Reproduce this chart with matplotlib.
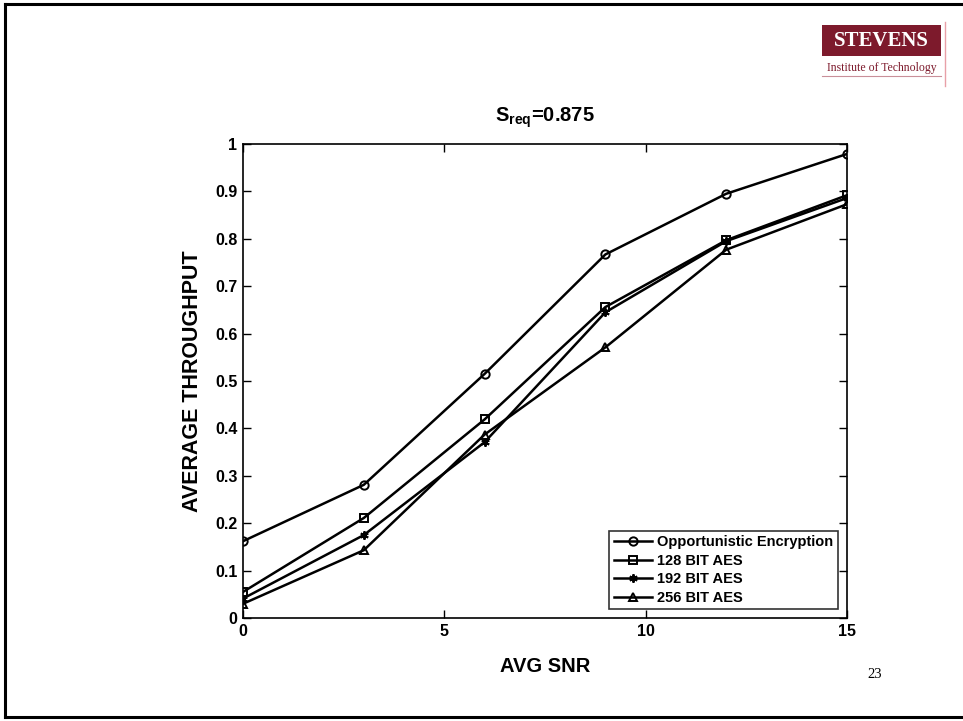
import numpy as np
import matplotlib
matplotlib.use('Agg')
import matplotlib.pyplot as plt
from matplotlib.patches import Rectangle

plt.rcParams['font.family'] = ['Liberation Sans', 'DejaVu Sans']
plt.rcParams['mathtext.fontset'] = 'custom'
plt.rcParams['mathtext.rm'] = 'Liberation Sans:bold'
plt.rcParams['mathtext.it'] = 'Liberation Sans:bold'
plt.rcParams['mathtext.bf'] = 'Liberation Sans:bold'

# ---- data ----
snr = [0, 3, 6, 9, 12, 15]
opportunistic = [0.162, 0.281, 0.515, 0.767, 0.895, 0.979]
aes_128 = [0.055, 0.211, 0.419, 0.656, 0.797, 0.892]
aes_192 = [0.041, 0.175, 0.371, 0.645, 0.795, 0.886]
aes_256 = [0.030, 0.143, 0.387, 0.571, 0.777, 0.873]

series_labels = ['Opportunistic Encryption', '128 BIT AES',
                 '192 BIT AES', '256 BIT AES']
x_ticks = [0, 5, 10, 15]
y_ticks = [0, 0.1, 0.2, 0.3, 0.4, 0.5, 0.6, 0.7, 0.8, 0.9, 1.0]
y_tick_labels = ['0', '0.1', '0.2', '0.3', '0.4', '0.5', '0.6', '0.7',
                 '0.8', '0.9', '1']

W, H = 963, 721
fig = plt.figure(figsize=(W / 100, H / 100), dpi=100)
fig.patch.set_facecolor('white')

# slide frame
frame = fig.add_axes([0, 0, 1, 1])
frame.set_xlim(0, W)
frame.set_ylim(H, 0)
frame.axis('off')
frame.plot([5, W + 5], [4, 4], color='black', lw=2.2)
frame.plot([5, 5], [4, 717], color='black', lw=2.2)
frame.plot([5, W + 5], [717, 717], color='black', lw=2.2)

# Stevens logo
frame.add_patch(Rectangle((822, 25), 119, 31, facecolor='#7d1a2c',
                          edgecolor='none'))
frame.text(881.5, 41, 'STEVENS', color='white', fontsize=15,
           fontweight='bold', family=['Liberation Serif'],
           ha='center', va='center')
frame.text(881.5, 68, 'Institute of Technology', color='#7d1a2c',
           fontsize=8.5, family=['Liberation Serif'],
           ha='center', va='center')
frame.plot([822, 941], [76, 76], color='#c98f99', lw=0.8)
frame.plot([945, 945], [22, 86], color='#e8a0a8', lw=1)

# page number
frame.text(875, 674, '23', fontsize=10.5, family=['Liberation Serif'],
           ha='center', va='center')

ax = fig.add_axes([243 / W, 1 - 618 / H, (847 - 243) / W, (618 - 144) / H])
marker_list = ['o', 's', (6, 2, 0), '^']
all_series = [opportunistic, aes_128, aes_192, aes_256]
for vals, lab, mk in zip(all_series, series_labels, marker_list):
    ax.plot(snr, vals, color='black', lw=1.8, marker=mk, markersize=6,
            markerfacecolor='none', markeredgecolor='black',
            markeredgewidth=1.4, label=lab)

ax.set_xlim(0, 15)
ax.set_ylim(0, 1)
ax.set_xticks(x_ticks)
ax.set_xticklabels([str(t) for t in x_ticks])
ax.set_yticks(y_ticks)
ax.set_yticklabels(y_tick_labels)
ax.tick_params(direction='in', top=True, right=True, length=6, width=1,
               labelsize=11.5, pad=4)
for lbl in ax.get_xticklabels() + ax.get_yticklabels():
    lbl.set_fontweight('bold')
for sp in ax.spines.values():
    sp.set_linewidth(1.2)

ax.set_xlabel('AVG SNR', fontsize=14.5, fontweight='bold', labelpad=13)
ax.set_ylabel('AVERAGE THROUGHPUT', fontsize=15.5, fontweight='bold',
              labelpad=9)
fig.text(545 / W, 1 - 122 / H, r'S$_{\mathregular{req}}$=0.875',
         fontsize=14.5, fontweight='bold', ha='center', va='baseline')

leg = ax.legend(loc='lower right', bbox_to_anchor=(0.985, 0.019),
                prop={'weight': 'bold', 'size': 10.5}, frameon=True,
                fancybox=False, edgecolor='black', handlelength=2.6,
                handletextpad=0.4, borderpad=0.3, labelspacing=0.3,
                borderaxespad=0)
leg.get_frame().set_linewidth(1.2)

fig.savefig('out.png', dpi=100)
